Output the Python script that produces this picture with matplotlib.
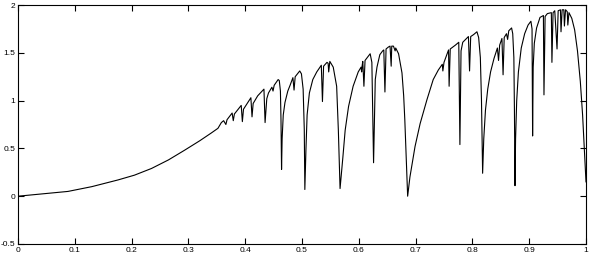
import matplotlib
matplotlib.use("Agg")
import matplotlib.pyplot as plt
from matplotlib.ticker import FormatStrFormatter

# curve, (x, y) pairs in order
x_vals = [
    # smooth rise
    0.000, 0.044, 0.088, 0.130, 0.176, 0.205, 0.235, 0.265, 0.293, 0.320, 0.340, 0.352,
    # small teeth
    0.358, 0.362, 0.366, 0.368, 0.377, 0.379, 0.381, 0.393, 0.395, 0.397, 0.410, 0.412,
    0.414, 0.422, 0.433, 0.435, 0.438, 0.441, 0.447, 0.449, 0.451,
    # dip near 0.464
    0.458, 0.460, 0.462, 0.463, 0.464, 0.465, 0.467, 0.470, 0.475, 0.479, 0.484, 0.486,
    0.488, 0.496,
    # dip near 0.505
    0.499, 0.502, 0.504, 0.505, 0.507, 0.509, 0.513, 0.519, 0.526, 0.534, 0.536, 0.538,
    0.544, 0.546, 0.547, 0.549,
    # dip near 0.567
    0.555, 0.561, 0.564, 0.567, 0.572, 0.576, 0.582, 0.590, 0.599, 0.604, 0.605, 0.606,
    0.607, 0.609, 0.611, 0.620,
    # dip near 0.626
    0.623, 0.626, 0.629, 0.632, 0.637, 0.642, 0.644, 0.646, 0.648, 0.652, 0.655, 0.657,
    0.658, 0.661, 0.664, 0.665, 0.670,
    # dip near 0.686
    0.676, 0.679, 0.681, 0.686, 0.690, 0.699, 0.708, 0.720, 0.731, 0.740, 0.747, 0.748,
    0.750, 0.758, 0.759, 0.761, 0.770,
    # dip near 0.778
    0.776, 0.778, 0.780, 0.783, 0.793, 0.795, 0.797, 0.802, 0.808,
    # dip near 0.818
    0.811, 0.814, 0.816, 0.818, 0.820, 0.823, 0.827, 0.832, 0.838, 0.844, 0.846, 0.848,
    0.852, 0.854, 0.856, 0.860, 0.862, 0.864, 0.869,
    # dip near 0.875
    0.871, 0.873, 0.874, 0.875, 0.876, 0.878, 0.881, 0.886, 0.892, 0.898, 0.903,
    # dip near 0.906 and the crowded top
    0.905, 0.906, 0.907, 0.909, 0.913, 0.919, 0.925, 0.926, 0.928, 0.932, 0.939, 0.940,
    0.942, 0.945, 0.949, 0.951, 0.955, 0.956, 0.958, 0.961, 0.962, 0.964, 0.967, 0.968,
    0.970, 0.975, 0.980, 0.985, 0.990, 0.994, 0.997, 1.000,
]
y_vals = [
    0.00, 0.025, 0.05, 0.10, 0.17, 0.22, 0.29, 0.38, 0.48, 0.58, 0.66, 0.71,
    0.77, 0.79, 0.75, 0.80, 0.87, 0.79, 0.86, 0.95, 0.78, 0.91, 1.03, 0.83,
    0.97, 1.05, 1.12, 0.77, 1.02, 1.08, 1.14, 1.10, 1.16,
    1.22, 1.21, 1.10, 0.80, 0.28, 0.60, 0.85, 0.98, 1.10, 1.16, 1.24, 1.11,
    1.25, 1.31,
    1.28, 1.12, 0.70, 0.07, 0.50, 0.85, 1.08, 1.22, 1.30, 1.37, 0.99, 1.36,
    1.40, 1.39, 1.30, 1.41,
    1.35, 1.15, 0.69, 0.08, 0.41, 0.69, 0.94, 1.15, 1.30, 1.35, 1.30, 1.37,
    1.41, 1.15, 1.42, 1.49,
    1.40, 0.35, 1.22, 1.35, 1.48, 1.52, 1.53, 1.09, 1.54, 1.56, 1.57, 1.36,
    1.57, 1.57, 1.52, 1.55, 1.49,
    1.29, 1.05, 0.80, 0.00, 0.20, 0.52, 0.76, 1.01, 1.22, 1.32, 1.38, 1.31,
    1.40, 1.53, 1.15, 1.54, 1.58,
    1.61, 0.54, 1.52, 1.61, 1.67, 1.31, 1.67, 1.69, 1.72,
    1.66, 1.45, 1.00, 0.24, 0.60, 0.90, 1.12, 1.30, 1.44, 1.55, 1.42, 1.58,
    1.65, 1.27, 1.66, 1.70, 1.64, 1.73, 1.76,
    1.70, 1.45, 0.90, 0.11, 0.60, 1.00, 1.30, 1.55, 1.70, 1.79, 1.83,
    1.75, 0.63, 1.35, 1.60, 1.76, 1.87, 1.89, 1.06, 1.88, 1.91, 1.92, 1.40,
    1.92, 1.94, 1.54, 1.94, 1.95, 1.72, 1.95, 1.95, 1.78, 1.95, 1.93, 1.79,
    1.92, 1.86, 1.74, 1.52, 1.20, 0.85, 0.50, 0.15,
]

x_ticks = [0, 0.1, 0.2, 0.3, 0.4, 0.5, 0.6, 0.7, 0.8, 0.9, 1]
y_ticks = [-0.5, 0, 0.5, 1, 1.5, 2]

plt.rcParams['font.family'] = ['Liberation Sans', 'DejaVu Sans']
plt.rcParams['axes.unicode_minus'] = False

fig = plt.figure(figsize=(5.93, 2.70), dpi=100)
ax = fig.add_axes([18 / 593, 26 / 270, 568 / 593, 239 / 270])

ax.plot(x_vals, y_vals, color='black', linewidth=0.8)

ax.set_xlim(0, 1)
ax.set_ylim(-0.5, 2)
ax.set_xticks(x_ticks)
ax.set_yticks(y_ticks)
ax.xaxis.set_major_formatter(FormatStrFormatter('%g'))
ax.yaxis.set_major_formatter(FormatStrFormatter('%g'))
ax.tick_params(direction='in', length=4, width=0.8, labelsize=6,
               top=True, right=True, pad=2)
for s in ax.spines.values():
    s.set_linewidth(0.8)

fig.savefig('out.png', dpi=100)
